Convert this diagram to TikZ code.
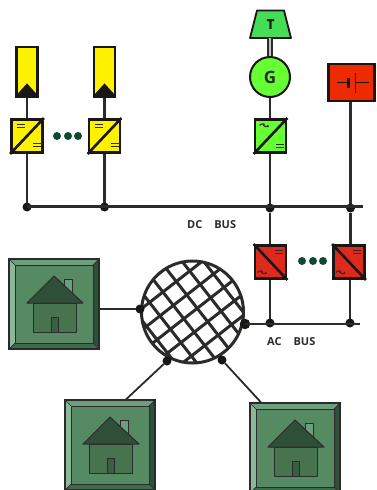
\documentclass[tikz,border=0pt]{standalone}
\usepackage{fontspec}
\setmainfont{Open Sans}
\newfontfamily\heavyf{Open Sans}[BoldFeatures={FakeBold=3}]
\usetikzlibrary{calc}
\definecolor{ink}{HTML}{2B2B2B}
\definecolor{blk}{HTML}{1A1614}
\definecolor{pvy}{HTML}{FFF200}
\definecolor{grn}{HTML}{66FF33}
\definecolor{tgrn}{HTML}{44DD55}
\definecolor{redc}{HTML}{DD2A1C}
\definecolor{batt}{HTML}{EE2A00}
\definecolor{dotg}{HTML}{0E4A30}
\definecolor{face}{HTML}{558A62}
\definecolor{bl}{HTML}{8CB89A}
\definecolor{bt}{HTML}{6E9F7C}
\definecolor{br}{HTML}{2F4F3A}
\definecolor{bb}{HTML}{3F6B4C}
\definecolor{body}{HTML}{47744F}
\definecolor{roof}{HTML}{2F4F38}
\tikzset{
  x=1pt,y=-1pt,
  wire/.style={draw=ink,line width=2.4pt},
  thin wire/.style={draw=ink,line width=1.8pt},
  joint/.style={circle,fill=blk,inner sep=0pt,minimum size=9pt,outer sep=0pt},
  bigjoint/.style={joint,minimum size=10.5pt},
  conv/.style={draw=blk,line width=2.8pt,minimum width=31pt,minimum height=33pt,inner sep=0pt,outer sep=1.4pt},
  pv/.style={draw=blk,line width=2.8pt,fill=pvy,minimum width=21pt,minimum height=50pt,inner sep=0pt,outer sep=1.4pt},
  sep/.style={circle,fill=dotg,inner sep=0pt,minimum size=8pt},
  bus/.style={font=\bfseries\fontsize{11}{13}\selectfont,text=ink,inner sep=0pt},
  sym/.style={draw=ink,line width=1.1pt},
  hline/.style={draw=ink,line width=1pt,line join=round}
}
% equal sign centred on a point
\newcommand{\eqsym}[2]{\draw[sym] ($(#1)+(#2)+(-4,-1.6)$) -- ++(8,0) ($(#1)+(#2)+(-4,1.6)$) -- ++(8,0);}
\newcommand{\acsym}[2]{\draw[sym] ($(#1)+(#2)+(-4,0.4)$) .. controls +(1.2,-2) and +(2.6,-2) .. ++(4,0) .. controls +(1.4,2) and +(2.8,2) .. ++(4,-0.4);}
% house tile: #1 name, #2 x, #3 y of top-left
\newcommand{\housetile}[3]{%
  \begin{scope}[shift={(#2,#3)}]
    \node[draw=ink,fill=face,line width=1.2pt,minimum size=90pt,inner sep=0pt,outer sep=0.6pt] (#1) at (45,45) {};
    \fill[bt] (0,0) -- (90,0) -- (84,6) -- (6,6) -- cycle;
    \fill[bl] (0,0) -- (6,6) -- (6,84) -- (0,90) -- cycle;
    \fill[br] (90,0) -- (84,6) -- (84,84) -- (90,90) -- cycle;
    \fill[bb] (0,90) -- (6,84) -- (84,84) -- (90,90) -- cycle;
    \draw[draw=ink,line width=1.2pt] (0,0) rectangle (90,90);
    \draw[draw=ink,line width=1pt] (6,6) rectangle (84,84);
    \draw[draw=ink,line width=0.7pt] (0,0) -- (6,6) (90,0) -- (84,6) (0,90) -- (6,84) (90,90) -- (84,84);
    \draw[hline,fill=bt] (55,20) rectangle (63,34);
    \draw[hline,fill=body] (24,44) rectangle (67,73);
    \draw[hline,fill=roof] (45,17) -- (74,44) -- (18,44) -- cycle;
    \draw[hline,fill=roof!60!body] (42,58) rectangle (49,73);
  \end{scope}}
\begin{document}
\begin{tikzpicture}
\useasboundingbox (0,0) rectangle (376,490);
\fill[white] (0,0) rectangle (376,490);

% --- junctions
\node[joint] (d1) at (27,207) {};
\node[joint] (d2) at (104.5,207) {};
\node[joint] (d3) at (270,208) {};
\node[joint] (d4) at (350.5,208) {};
\coordinate (dcend) at (363,206.5);
\node[joint] (a1) at (270,323) {};
\node[joint] (a2) at (350,323) {};
\coordinate (acend) at (360,323);

% --- PV panels and DC/DC converters
\node[pv] (pv1) at (27,72) {};
\node[pv] (pv2) at (104.5,72) {};
\foreach \p in {pv1,pv2}{
  \fill[blk] ($(\p.south)+(-10,-1)$) -- ($(\p.south)+(-10,-4)$) -- ($(\p.south)+(0,-15)$) -- ($(\p.south)+(10,-4)$) -- ($(\p.south)+(10,-1)$) -- cycle;
}
\node[conv,fill=pvy] (c1) at (27,136) {};
\node[conv,fill=pvy] (c2) at (104.5,136) {};
\node[sep] at (57,136) {};
\node[sep] at (68,136) {};
\node[sep] at (78,136) {};
\foreach \c in {c1,c2}{
  \draw[blk,line width=2.6pt] (\c.south west) -- (\c.north east);
  \eqsym{\c}{-6,-10}
  \eqsym{\c}{10,9}
}

% --- generator branch
\node[draw=blk,line width=2pt,fill=grn,circle,minimum size=40pt,inner sep=0pt,outer sep=1pt,font=\bfseries\fontsize{17}{17}\selectfont,text=ink] (g) at (270,77) {G};
\node[conv,fill=grn] (c3) at (270.5,136) {};
\draw[blk,line width=2.6pt] (c3.south west) -- (c3.north east);
\acsym{c3}{-7,-11}
\eqsym{c3}{9,10}
\coordinate (tb) at (270,38);
\draw[blk,line width=1.8pt,fill=tgrn,line join=round] (257,10.5) -- (284,10.5) -- (291,38) -- (250,38) -- cycle;
\node[font=\heavyf\bfseries\fontsize{13}{13}\selectfont,text=blk,inner sep=0pt] (tl) at (270.5,24) {T};
\draw[ink,line width=6pt] (tb) -- (g.north);
\draw[white!70!ink,line width=1.6pt] (tb) -- (g.north);

% --- battery
\node[draw=blk,line width=2.8pt,fill=batt,minimum width=46pt,minimum height=37pt,inner sep=0pt,outer sep=1.4pt] (bat) at (351.5,82.5) {};
\draw[blk,line width=1pt] ($(bat.center)+(-15,0)$) -- ($(bat.center)+(-3,0)$);
\draw[blk,line width=3pt] ($(bat.center)+(-3,-5)$) -- ($(bat.center)+(-3,5)$);
\draw[blk,line width=1pt] ($(bat.center)+(4,-10)$) -- ($(bat.center)+(4,10)$);
\draw[blk,line width=1pt] ($(bat.center)+(4,0)$) -- ($(bat.center)+(17,0)$);

% --- red converters
\node[conv,fill=redc] (c4) at (270.5,262) {};
\node[conv,fill=redc] (c5) at (349,262) {};
\node[sep] at (302,261) {};
\node[sep] at (313,261) {};
\node[sep] at (323,261) {};
\foreach \c in {c4,c5}{
  \draw[blk,line width=2.6pt] (\c.north west) -- (\c.south east);
  \eqsym{\c}{8,-10}
  \acsym{\c}{-9,10}
}

% --- grid
\coordinate (gc) at (192.5,312);
\begin{scope}
  \clip (gc) circle (51);
  \fill[white] (gc) circle (51);
  \foreach \o in {-68,-51,-34,-17,0,17,34,51,68}{
    \draw[ink,line width=3pt] ($(gc)+(-38:-80)+(52:\o)$) -- ($(gc)+(-38:80)+(52:\o)$);
    \draw[ink,line width=3pt] ($(gc)+(52:-80)+(-38:\o+6)$) -- ($(gc)+(52:80)+(-38:\o+6)$);
  }
\end{scope}
\draw[ink,line width=3pt] (gc) circle (51);
\node[joint] (g1) at (140,309) {};
\node[bigjoint] (g2) at (245,324) {};
\node[joint] (g3) at (167,361) {};
\node[joint] (g4) at (222,360) {};

% --- houses
\housetile{h1}{9}{259}
\housetile{h2}{65}{400}
\housetile{h3}{250}{403}
\coordinate (h1p) at (h1.east |- g1);
\coordinate (h2p) at (126,399.4);
\coordinate (h3p) at (261,402.4);

% --- connectors
\draw[wire] (pv1.south) -- (c1.north);
\draw[wire] (pv2.south) -- (c2.north);
\draw[wire] (c1.south) -- (d1);
\draw[wire] (c2.south) -- (d2);
\draw[wire] (g.south) -- (g.south |- c3.north);
\draw[wire] (c3.south -| d3) -- (d3);
\draw[wire] (bat.south -| d4) -- (d4);
\draw[wire,line width=3pt] (d1.center |- dcend) -- (dcend);
\draw[wire] (d3) -- (d3 |- c4.north);
\draw[wire] (d4) -- (d4 |- c5.north);
\draw[wire] (a1 |- c4.south) -- (a1);
\draw[wire] (a2 |- c5.south) -- (a2);
\draw[wire,line width=2.6pt] (g2.center) -- (g2.center -| acend);
\draw[thin wire] (h1p) -- (g1);
\draw[thin wire] (h2p) -- (g3);
\draw[thin wire] (h3p) -- (g4);

% --- labels
\node[bus,anchor=west] (dcl) at (187,225) {DC\hspace{12pt}BUS};
\node[bus,anchor=west] (acl) at (267,342) {AC\hspace{12pt}BUS};
\end{tikzpicture}
\end{document}
